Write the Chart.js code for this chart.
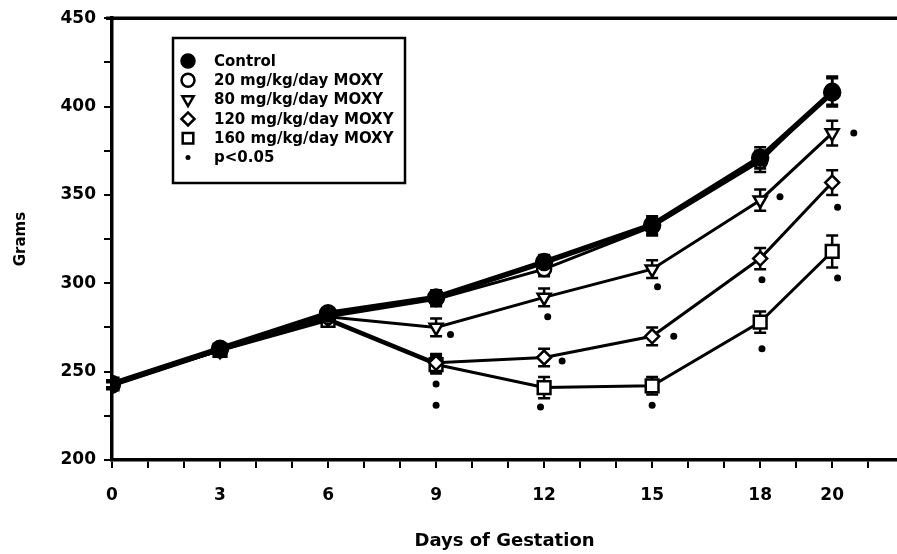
<!DOCTYPE html>
<html>
<head>
<meta charset="utf-8">
<script src="https://cdn.jsdelivr.net/npm/chart.js@4.4.0/dist/chart.umd.min.js"></script>
<style>
  body { margin: 0; background: #fff; }
  #wrap { width: 897px; height: 554px; position: relative; }
</style>
</head>
<body>
<div id="wrap"><canvas id="weights"></canvas></div>
<script>
// days of gestation and mean body weights (grams)
var days = [0, 3, 6, 9, 12, 15, 18, 20];
var control  = [243, 263, 283, 292, 312, 333, 371, 408];
var moxy20   = [242, 262, 281, 291, 308, 332, 369, 409];
var moxy80   = [243, 262, 281, 275, 292, 308, 347, 385];
var moxy120  = [243, 262, 280, 255, 258, 270, 314, 357];
var moxy160  = [243, 262, 279, 254, 241, 242, 278, 318];

// error bar half-heights (grams)
var controlErr = [2, 2, 2, 4, 4, 5, 6, 8];
var moxy20Err  = [2, 2, 2, 4, 4, 5, 6, 8];
var moxy80Err  = [2, 2, 2, 5, 5, 5, 6, 7];
var moxy120Err = [2, 2, 2, 5, 5, 5, 6, 7];
var moxy160Err = [2, 2, 2, 5, 6, 5, 6, 9];

// p<0.05 markers
var sigX = [9.4, 9.0, 9.0, 12.1, 12.5, 11.9, 15.15, 15.6, 15.0, 18.55, 18.05, 18.05, 20.6, 20.15, 20.15];
var sigY = [271, 243, 231, 281, 256, 230, 298, 270, 231, 349, 302, 263, 385, 343, 303];

var xTickLabels = [0, 3, 6, 9, 12, 15, 18, 20];

var FONT = "'DejaVu Sans', sans-serif";

function pts(xs, ys) {
  return xs.map(function (x, i) { return { x: x, y: ys[i] }; });
}

function series(label, vals, err, style, opts) {
  var ds = {
    label: label,
    data: pts(days, vals),
    sem: err,
    borderColor: '#000',
    backgroundColor: '#fff',
    borderWidth: 3,
    pointStyle: style,
    pointRadius: 7,
    pointBorderWidth: 2.5,
    pointBorderColor: '#000',
    pointBackgroundColor: '#fff',
    tension: 0
  };
  for (var k in opts) ds[k] = opts[k];
  return ds;
}

var errorBars = {
  id: 'errorBars',
  beforeDatasetsDraw: function (chart) {
    var ctx = chart.ctx, ys = chart.scales.y, xs = chart.scales.x;
    ctx.save();
    ctx.strokeStyle = '#000';
    ctx.lineWidth = 2.5;
    chart.data.datasets.forEach(function (ds) {
      if (!ds.sem) return;
      ds.data.forEach(function (p, j) {
        var px = xs.getPixelForValue(p.x);
        var top = ys.getPixelForValue(p.y + ds.sem[j]);
        var bot = ys.getPixelForValue(p.y - ds.sem[j]);
        ctx.beginPath();
        ctx.moveTo(px, top); ctx.lineTo(px, bot);
        ctx.moveTo(px - 6, top); ctx.lineTo(px + 6, top);
        ctx.moveTo(px - 6, bot); ctx.lineTo(px + 6, bot);
        ctx.stroke();
      });
    });
    ctx.restore();
  }
};

var frameAndLegend = {
  id: 'frameAndLegend',
  afterDraw: function (chart) {
    var ctx = chart.ctx, a = chart.chartArea;
    ctx.save();
    // top frame line
    ctx.strokeStyle = '#000';
    ctx.lineWidth = 3.5;
    ctx.beginPath();
    ctx.moveTo(a.left - 6, a.top);
    ctx.lineTo(a.right, a.top);
    ctx.stroke();

    // legend box
    ctx.lineWidth = 2.5;
    ctx.strokeRect(173, 38, 232, 145);
    ctx.font = 'bold 15px ' + FONT;
    ctx.textBaseline = 'middle';
    chart.data.datasets.forEach(function (ds, i) {
      var cy = 61 + i * 19.3;
      var sig = ds.label === 'p<0.05';
      ctx.fillStyle = ds.pointBackgroundColor;
      ctx.strokeStyle = '#000';
      ctx.lineWidth = ds.pointBorderWidth || 2.5;
      Chart.helpers.drawPoint(ctx, {
        pointStyle: ds.pointStyle,
        rotation: ds.pointRotation || 0,
        radius: sig ? 2.5 : (ds.pointStyle === 'rect' ? 7.5 : 6.5),
        borderWidth: sig ? 0 : ds.pointBorderWidth
      }, 188, cy);
      ctx.fillStyle = '#000';
      ctx.fillText(ds.label, 214, cy + 1);
    });
    ctx.restore();
  }
};

new Chart(document.getElementById('weights'), {
  type: 'line',
  data: {
    datasets: [
      series('Control', control, controlErr, 'circle', {
        borderWidth: 5.5, pointRadius: 8, pointBackgroundColor: '#000', backgroundColor: '#000'
      }),
      series('20 mg/kg/day MOXY', moxy20, moxy20Err, 'circle', {}),
      series('80 mg/kg/day MOXY', moxy80, moxy80Err, 'triangle', { pointRotation: 180, pointRadius: 7.5 }),
      series('120 mg/kg/day MOXY', moxy120, moxy120Err, 'rectRot', {}),
      series('160 mg/kg/day MOXY', moxy160, moxy160Err, 'rect', { pointRadius: 9 }),
      {
        label: 'p<0.05',
        data: pts(sigX, sigY),
        showLine: false,
        pointStyle: 'circle',
        pointRadius: 3.5,
        pointBorderWidth: 0,
        pointBackgroundColor: '#000',
        pointBorderColor: '#000',
        backgroundColor: '#000'
      }
    ]
  },
  options: {
    responsive: true,
    maintainAspectRatio: false,
    animation: false,
    layout: { autoPadding: false, padding: { top: 18, right: 0, left: 0, bottom: 0 } },
    plugins: {
      legend: { display: false },
      tooltip: { enabled: false }
    },
    scales: {
      x: {
        type: 'linear',
        min: 0,
        max: 21.8,
        afterFit: function (s) { s.height = 94; },
        border: { color: '#000', width: 3.5 },
        grid: { drawOnChartArea: false, color: '#000', lineWidth: 2, tickLength: 8 },
        ticks: {
          stepSize: 1,
          includeBounds: false,
          autoSkip: false,
          maxRotation: 0,
          padding: 17,
          color: '#000',
          font: { family: FONT, weight: 'bold', size: 17 },
          callback: function (v) { return xTickLabels.indexOf(v) >= 0 ? String(v) : ''; }
        },
        title: {
          display: true,
          text: 'Days of Gestation',
          color: '#000',
          font: { family: FONT, weight: 'bold', size: 18 },
          padding: { top: 0, bottom: 2 }
        }
      },
      y: {
        min: 200,
        max: 450,
        afterFit: function (s) { s.width = 112; },
        border: { color: '#000', width: 3.5 },
        grid: { drawOnChartArea: false, color: '#000', lineWidth: 2, tickLength: 8 },
        ticks: {
          stepSize: 25,
          padding: 8,
          color: '#000',
          font: { family: FONT, weight: 'bold', size: 17 },
          callback: function (v) { return v % 50 === 0 ? String(v) : ''; }
        },
        title: {
          display: true,
          text: 'Grams',
          color: '#000',
          font: { family: FONT, weight: 'bold', size: 15 },
          padding: { top: 12, bottom: 0 }
        }
      }
    }
  },
  plugins: [errorBars, frameAndLegend]
});
</script>
</body>
</html>
